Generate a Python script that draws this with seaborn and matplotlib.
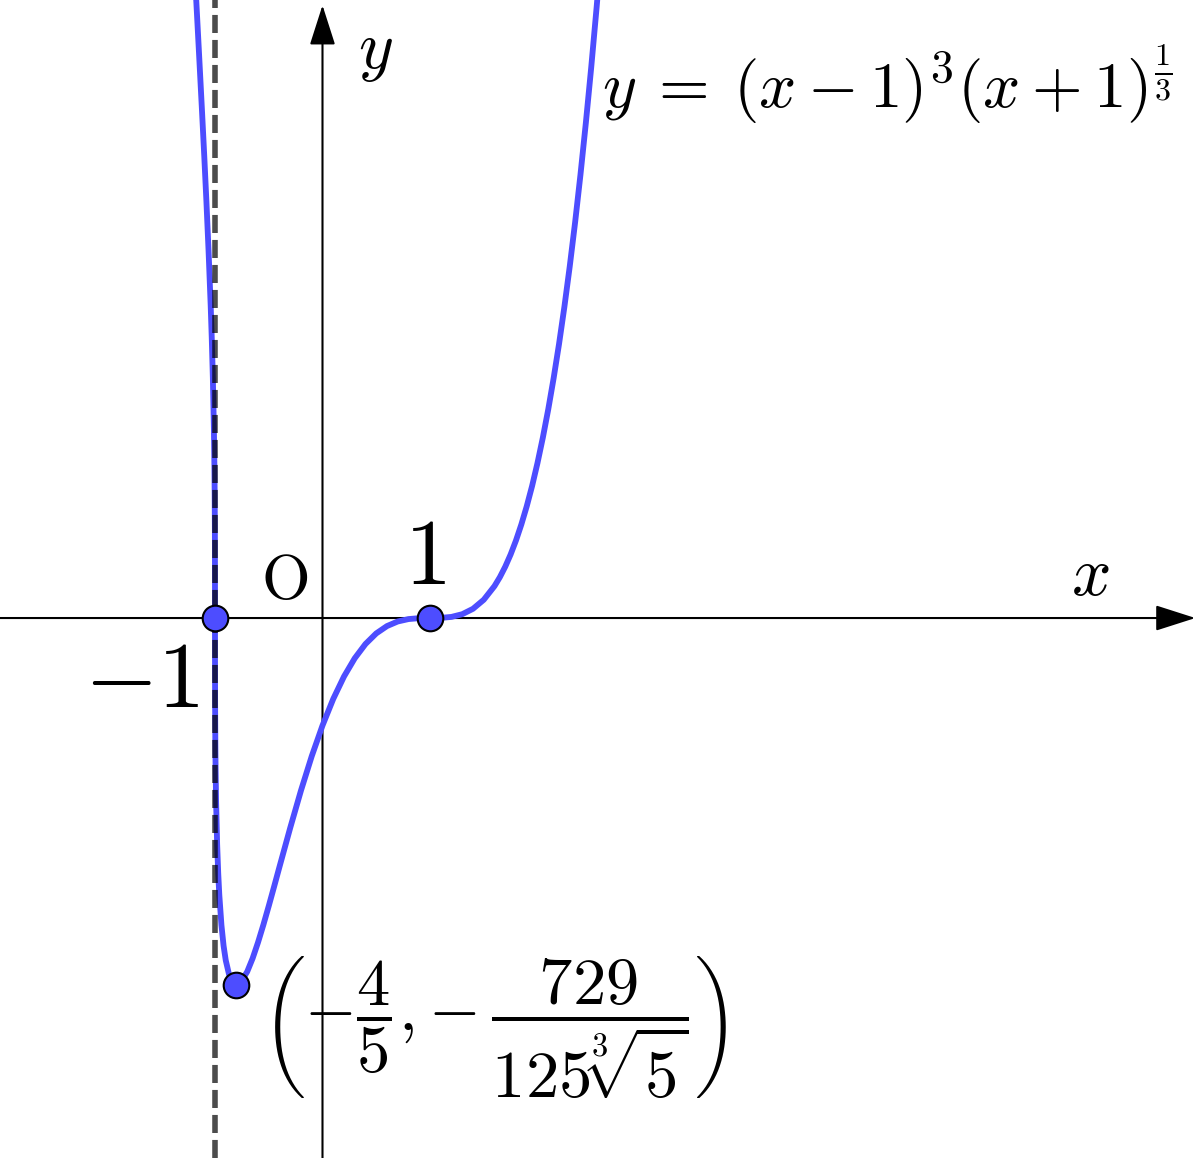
import matplotlib
matplotlib.use('Agg')
import matplotlib.pyplot as plt
import seaborn as sns
import pandas as pd

x_vals = [-1.19, -1.17, -1.15, -1.12, -1.10, -1.08, -1.06, -1.04, -1.03, -1.02, -1.01,
          -1.005, -1.003, -1.001, -1.0001, -1.0, -0.9999, -0.999, -0.997, -0.995, -0.99,
          -0.98, -0.97, -0.96, -0.94, -0.92, -0.90, -0.87, -0.84, -0.80, -0.76, -0.70,
          -0.65, -0.60, -0.55, -0.50, -0.45, -0.40, -0.30, -0.20, -0.10, 0.0, 0.1, 0.2,
          0.3, 0.4, 0.5, 0.6, 0.7, 0.8, 0.9, 1.0, 1.1, 1.2, 1.3, 1.4, 1.5, 1.6, 1.65,
          1.7, 1.75, 1.8, 1.85, 1.9, 1.95, 2.0, 2.05, 2.1, 2.15, 2.2, 2.25, 2.3, 2.35,
          2.4, 2.45, 2.5, 2.55, 2.6]
y_vals = [6.04, 5.661, 5.28, 4.699, 4.30, 3.878, 3.42, 2.904, 2.60, 2.237, 1.749,
          1.378, 1.159, 0.801, 0.371, 0.0, -0.371, -0.799, -1.148, -1.358, -1.698,
          -2.107, -2.375, -2.575, -2.858, -3.050, -3.184, -3.313, -3.382, -3.411, -3.388, -3.289,
          -3.166, -3.018, -2.854, -2.679, -2.498, -2.314, -1.951, -1.604, -1.285, -1.0, -0.7525, -0.5441,
          -0.3744, -0.2416, -0.1431, -0.0749, -0.0322, -0.00973, -0.00124, 0.0, 0.00128, 0.0104, 0.0356, 0.0857, 0.1697, 0.2970, 0.380,
          0.4776, 0.5911, 0.7217, 0.871, 1.0396, 1.229, 1.4422, 1.679, 1.9407, 2.230, 2.5464, 2.893, 3.2709, 3.681,
          4.1262, 4.607, 5.1243, 5.680, 6.2775]

# pontos destacados
pontos_x = [-1.0, 1.0, -0.8]
pontos_y = [0.0, 0.0, -3.411]

curva = pd.DataFrame({'x': x_vals, 'y': y_vals})

sns.set_style('white')
plt.rcParams['mathtext.fontset'] = 'cm'
plt.rcParams['font.family'] = ['DejaVu Sans']
plt.rcParams['text.color'] = 'black'

fig = plt.figure(figsize=(12, 11.58), dpi=100)
ax = fig.add_axes([0, 0, 1, 1])
ax.set_xlim(-3.0, 8.163)
ax.set_ylim(-5.023, 5.749)
ax.axis('off')

azul = '#4d4dff'

# eixos com setas
ax.annotate('', xy=(8.12, 0), xytext=(-3.0, 0),
            arrowprops=dict(arrowstyle='-|>,head_length=1.25,head_width=0.4',
                            mutation_scale=20, lw=1.5, color='black',
                            shrinkA=0, shrinkB=0), zorder=1)
ax.annotate('', xy=(0, 5.70), xytext=(0, -5.03),
            arrowprops=dict(arrowstyle='-|>,head_length=1.25,head_width=0.4',
                            mutation_scale=20, lw=1.5, color='black',
                            shrinkA=0, shrinkB=0), zorder=1)

sns.lineplot(data=curva, x='x', y='y', sort=False, estimator=None,
             color=azul, linewidth=4.2, ax=ax, zorder=2)

# assintota tracejada em x = -1
ax.axvline(-1.0, color='black', alpha=0.7, lw=4, ls=(0, (3.25, 1.25)), zorder=3)

sns.scatterplot(x=pontos_x, y=pontos_y, s=340, color=azul, edgecolor='black',
                linewidth=1.5, ax=ax, zorder=5)

ax.text(0.49, 5.27, r'$y$', fontsize=48, ha='center', va='center', color='black')
ax.text(7.14, 0.40, r'$x$', fontsize=50, ha='center', va='center', color='black')
ax.text(-0.349, 0.335, r'$\mathrm{O}$', fontsize=45, ha='center', va='center', color='black')
ax.text(0.953, 0.558, r'$1$', fontsize=68, ha='center', va='center', color='black')
ax.text(-1.679, -0.586, r'$-1$', fontsize=68, ha='center', va='center', color='black')
ax.text(2.60, 4.744, r'$y\:=\:(x-1)^3(x+1)^{\frac{1}{3}}$', fontsize=47,
        ha='left', va='baseline', color='black')
ax.text(-0.56, -3.81, r'$\left(-\dfrac{4}{5}{,}-\dfrac{729}{125\sqrt[3]{5}}\right)$',
        fontsize=48, ha='left', va='center', color='black')

fig.savefig('out.png', dpi=100, facecolor='white')
